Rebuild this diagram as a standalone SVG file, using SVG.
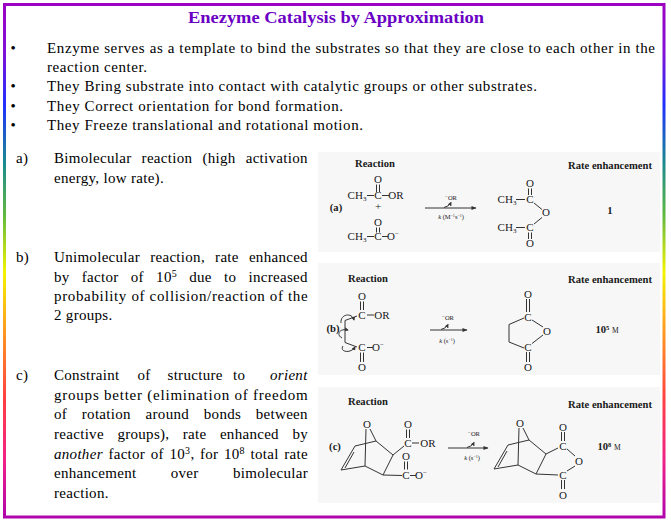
<svg xmlns="http://www.w3.org/2000/svg" width="671" height="524" viewBox="0 0 671 524">
<defs>
<linearGradient id="bdr" gradientUnits="userSpaceOnUse" x1="0" y1="0" x2="0" y2="524">
<stop offset="0" stop-color="#a000c0"/>
<stop offset="0.1" stop-color="#8010d8"/>
<stop offset="0.2" stop-color="#2030ff"/>
<stop offset="0.31" stop-color="#1a8a90"/>
<stop offset="0.41" stop-color="#60b840"/>
<stop offset="0.52" stop-color="#f4f400"/>
<stop offset="0.63" stop-color="#ff9a20"/>
<stop offset="0.76" stop-color="#ff4040"/>
<stop offset="0.88" stop-color="#f02088"/>
<stop offset="1" stop-color="#a800b0"/>
</linearGradient>
<marker id="ah" viewBox="0 0 10 10" refX="9" refY="5" markerWidth="6" markerHeight="5" orient="auto" markerUnits="userSpaceOnUse">
<path d="M0,1 L10,5 L0,9 z" fill="#333"/>
</marker>
<marker id="hk" viewBox="0 0 10 10" refX="8" refY="5" markerWidth="4" markerHeight="4" orient="auto" markerUnits="userSpaceOnUse">
<path d="M0,0 L10,5 L0,10 z" fill="#333"/>
</marker>
<style>
.ttl{font-family:"Liberation Serif","Times New Roman","DejaVu Serif",serif;font-weight:bold;font-size:17px;fill:#6a00c4}
.bu{font-family:"Liberation Serif","Times New Roman","DejaVu Serif",serif;font-size:15px;fill:#000}
.tx{font-family:"Liberation Serif","Times New Roman","DejaVu Serif",serif;font-size:15px;fill:#000;letter-spacing:0.3px}
.at{font-family:"Liberation Serif","Times New Roman","DejaVu Serif",serif;font-size:11px;fill:#1a1a1a;text-anchor:middle}
.hd{font-family:"Liberation Serif","Times New Roman","DejaVu Serif",serif;font-size:10.6px;font-weight:bold;fill:#1a1a1a;text-anchor:middle}
.lb{font-family:"Liberation Serif","Times New Roman","DejaVu Serif",serif;font-size:6.5px;fill:#222;text-anchor:middle}
.bd{stroke:#333;stroke-width:1;fill:none}
.pn{fill:#f7f7f7}
</style>
</defs>
<rect x="0" y="0" width="671" height="524" fill="#fff"/>
<rect id="frame" x="4.5" y="4.5" width="659.5" height="512.5" fill="none" stroke="url(#bdr)" stroke-width="3"/>

<g id="title">
<text class="ttl" x="188" y="23" textLength="296" lengthAdjust="spacingAndGlyphs">Enezyme Catalysis by Approximation</text>
</g>

<g id="bullets">
<text class="bu" x="10.5" y="53">•</text>
<text class="bu" x="47" y="53" textLength="608" lengthAdjust="spacing">Enzyme serves as a template to bind the substrates so that they are close to each other in the</text>
<text class="bu" x="47" y="72" textLength="100" lengthAdjust="spacing">reaction center.</text>
<text class="bu" x="10.5" y="91">•</text>
<text class="bu" x="47" y="91" textLength="490" lengthAdjust="spacing">They Bring substrate into contact with catalytic groups or other substrates.</text>
<text class="bu" x="10.5" y="110.5">•</text>
<text class="bu" x="47" y="110.5" textLength="296" lengthAdjust="spacing">They Correct orientation for bond formation.</text>
<text class="bu" x="10.5" y="130">•</text>
<text class="bu" x="47" y="130" textLength="316" lengthAdjust="spacing">They Freeze translational and rotational motion.</text>
</g>

<g id="item-a">
<text class="tx" x="16" y="163">a)</text>
<text class="tx" y="163"><tspan x="54">Bimolecular</tspan><tspan x="141.6">reaction</tspan><tspan x="202.4">(high</tspan><tspan x="245.7">activation</tspan></text>
<text class="tx" x="54" y="183">energy, low rate).</text>
</g>

<g id="item-b">
<text class="tx" x="16" y="262">b)</text>
<text class="tx" y="262"><tspan x="54">Unimolecular</tspan><tspan x="150.2">reaction,</tspan><tspan x="215.1">rate</tspan><tspan x="248.9">enhanced</tspan></text>
<text class="tx" y="281.5"><tspan x="54">by</tspan><tspan x="81.8">factor</tspan><tspan x="130.8">of</tspan><tspan x="156.1">10<tspan font-size="10" baseline-shift="5">5</tspan></tspan><tspan x="189.2">due</tspan><tspan x="224">to</tspan><tspan x="248.5">increased</tspan></text>
<text class="tx" x="54" y="301" textLength="254" lengthAdjust="spacing">probability of collision/reaction of the</text>
<text class="tx" x="54" y="320">2 groups.</text>
</g>

<g id="item-c">
<text class="tx" x="16" y="380">c)</text>
<text class="tx" y="380"><tspan x="54">Constraint</tspan><tspan x="137.5">of</tspan><tspan x="167.5">structure</tspan><tspan x="233">to</tspan><tspan x="270" font-style="italic">orient</tspan></text>
<text class="tx" x="54" y="399.5" textLength="254" lengthAdjust="spacing">groups better (elimination of freedom</text>
<text class="tx" y="419"><tspan x="54">of</tspan><tspan x="81.8">rotation</tspan><tspan x="145.6">around</tspan><tspan x="203.8">bonds</tspan><tspan x="255.8">between</tspan></text>
<text class="tx" y="439"><tspan x="54">reactive</tspan><tspan x="117.4">groups),</tspan><tspan x="182.8">rate</tspan><tspan x="219.9">enhanced</tspan><tspan x="292.4">by</tspan></text>
<text class="tx" y="458.5"><tspan x="54" font-style="italic">another</tspan><tspan x="108.4">factor</tspan><tspan x="150.8">of</tspan><tspan x="169.5">10<tspan font-size="10" baseline-shift="5">3</tspan>,</tspan><tspan x="200">for</tspan><tspan x="224">10<tspan font-size="10" baseline-shift="5">8</tspan></tspan><tspan x="250.5">total</tspan><tspan x="284.3">rate</tspan></text>
<text class="tx" y="478"><tspan x="54">enhancement</tspan><tspan x="170.7">over</tspan><tspan x="233">bimolecular</tspan></text>
<text class="tx" x="54" y="497.5">reaction.</text>
</g>

<g id="panel-a">
<rect class="pn" x="318" y="152" width="342" height="100"/>
<text class="hd" x="375" y="167">Reaction</text>
<text class="hd" x="610" y="169">Rate enhancement</text>
<text class="hd" x="336" y="211">(a)</text>
<text class="at" x="378" y="183">O</text>
<text class="at" x="357" y="199">CH<tspan font-size="7" baseline-shift="-2">3</tspan></text>
<text class="at" x="378" y="199">C</text>
<text class="at" x="396" y="199">OR</text>
<text class="at" x="378" y="210" font-size="9">+</text>
<text class="at" x="378" y="226">O</text>
<text class="at" x="357" y="240">CH<tspan font-size="7" baseline-shift="-2">3</tspan></text>
<text class="at" x="378" y="240">C</text>
<text class="at" x="393" y="240">O<tspan font-size="7" baseline-shift="4">−</tspan></text>
<text class="lb" x="451" y="200"><tspan font-size="5" baseline-shift="2.5">−</tspan>OR</text>
<text class="lb" x="451" y="219" font-size="5.5"><tspan font-style="italic">k</tspan> (M<tspan font-size="4" baseline-shift="2.5">−1</tspan>s<tspan font-size="4" baseline-shift="2.5">−1</tspan>)</text>
<text class="at" x="530" y="187">O</text>
<text class="at" x="507" y="203">CH<tspan font-size="7" baseline-shift="-2">3</tspan></text>
<text class="at" x="530" y="203">C</text>
<text class="at" x="546" y="216">O</text>
<text class="at" x="507" y="231">CH<tspan font-size="7" baseline-shift="-2">3</tspan></text>
<text class="at" x="530" y="231">C</text>
<text class="at" x="530" y="247">O</text>
<text class="hd" x="610" y="214">1</text>
</g>

<g id="panel-b">
<rect class="pn" x="318" y="263" width="342" height="112"/>
<text class="hd" x="368" y="282">Reaction</text>
<text class="hd" x="610" y="283">Rate enhancement</text>
<text class="hd" x="333" y="331.5">(b)</text>
<text class="at" x="362" y="300">O</text>
<text class="at" x="362" y="318.5">C</text>
<text class="at" x="382" y="318.5">OR</text>
<text class="at" x="362" y="351">C</text>
<text class="at" x="378" y="351">O<tspan font-size="7" baseline-shift="4">−</tspan></text>
<text class="at" x="362" y="371">O</text>
<text class="lb" x="448" y="320"><tspan font-size="5" baseline-shift="2.5">−</tspan>OR</text>
<text class="lb" x="447" y="342.5" font-size="5.5"><tspan font-style="italic">k</tspan> (s<tspan font-size="4" baseline-shift="2.5">−1</tspan>)</text>
<text class="at" x="528" y="297.5">O</text>
<text class="at" x="528" y="320.5">C</text>
<text class="at" x="547" y="334.5">O</text>
<text class="at" x="528" y="350.5">C</text>
<text class="at" x="528" y="370.5">O</text>
<text class="hd" x="607" y="333">10<tspan font-size="6.5" baseline-shift="3.5">5</tspan> <tspan font-size="7.5" font-weight="normal">M</tspan></text>
</g>

<g id="panel-c">
<rect class="pn" x="318" y="387" width="342" height="116"/>
<text class="hd" x="368" y="405">Reaction</text>
<text class="hd" x="610" y="408">Rate enhancement</text>
<text class="hd" x="335" y="450">(c)</text>
<text class="at" x="367" y="427.5">O</text>
<text class="at" x="408" y="427.5">O</text>
<text class="at" x="408" y="446.5">C</text>
<text class="at" x="428" y="446.5">OR</text>
<text class="at" x="406" y="460">O</text>
<text class="at" x="406" y="479">C</text>
<text class="at" x="421" y="479">O<tspan font-size="7" baseline-shift="4">−</tspan></text>
<text class="lb" x="474" y="436"><tspan font-size="5" baseline-shift="2.5">−</tspan>OR</text>
<text class="lb" x="472" y="460" font-size="5.5"><tspan font-style="italic">k</tspan> (s<tspan font-size="4" baseline-shift="2.5">−1</tspan>)</text>
<text class="at" x="520" y="426.5">O</text>
<text class="at" x="563" y="430.5">O</text>
<text class="at" x="563" y="449.5">C</text>
<text class="at" x="579" y="464.5">O</text>
<text class="at" x="563" y="478.5">C</text>
<text class="at" x="563" y="498.5">O</text>
<text class="hd" x="609" y="450">10<tspan font-size="6.5" baseline-shift="3.5">8</tspan> <tspan font-size="7.5" font-weight="normal">M</tspan></text>
</g>

<g id="connectors">
<path class="bd" d="M367 195.5H374 M382 195.5H389 M376.5 184.5V192 M379.5 184.5V192"/>
<path class="bd" d="M376.5 227.5V232.5 M379.5 227.5V232.5 M367 236.5H374 M382 236.5H388"/>
<path class="bd" d="M528.5 188.5V195 M531.5 188.5V195 M516 199.5H525 M534 203L542 209.5 M516 227.5H525 M534 224L542 217.5 M528.5 232.5V239 M531.5 232.5V239"/>
<line class="bd" x1="425" y1="208" x2="476" y2="208" marker-end="url(#ah)"/>
<path class="bd" d="M444 207.5Q449 206.5 451 202.5" marker-end="url(#hk)"/>
<path class="bd" d="M360.5 301.5V310 M363.5 301.5V310 M367 315H374 M357 316L345 320.5V342.5L357 347 M367 347.5H373 M360.5 352.5V362 M363.5 352.5V362"/>
<path class="bd" d="M341 323C340 314 352 312 354 320" marker-end="url(#hk)"/>
<path class="bd" d="M342 338C336 335 339 328 348 330" marker-end="url(#hk)"/>
<path class="bd" d="M343 346C339 352 351 354 355 347" marker-end="url(#hk)"/>
<line class="bd" x1="430" y1="330" x2="467" y2="330" marker-end="url(#ah)"/>
<path class="bd" d="M441 329.5Q446 328.5 448 324.5" marker-end="url(#hk)"/>
<path class="bd" d="M526.5 299V312 M529.5 299V312 M524 318L509 324.5V342L524 348 M532 320L543 327 M543 335L532 343.5 M526.5 352V362 M529.5 352V362"/>
<path class="bd" d="M370 429L376 441 M366 429L365 466 M355 446L376 441 M355 446L341 470 M354 452L345 468 M341 470L365 466 M365 466L383 475 M376 441L393 455 M393 455L383 475 M393 455L404 446 M383 475L402 475.5"/>
<path class="bd" d="M406.5 429.5V438 M409.5 429.5V438 M412 443H419 M404.5 461.5V469.5 M407.5 461.5V469.5 M410 475.5H416"/>
<line class="bd" x1="448" y1="448" x2="488" y2="448" marker-end="url(#ah)"/>
<path class="bd" d="M467 447.5Q472 446.5 474 442.5" marker-end="url(#hk)"/>
<path class="bd" d="M523 428L529 440 M519 428L518 465 M508 445L529 440 M508 445L494 469 M507 451L498 467 M494 469L518 465 M518 465L536 474 M529 440L546 454 M546 454L536 474 M546 454L558 448 M536 474L558 475"/>
<path class="bd" d="M561.5 432V441 M564.5 432V441 M567 449L575 456 M575 466L567 471 M561.5 480V489 M564.5 480V489"/>
</g>
</svg>
